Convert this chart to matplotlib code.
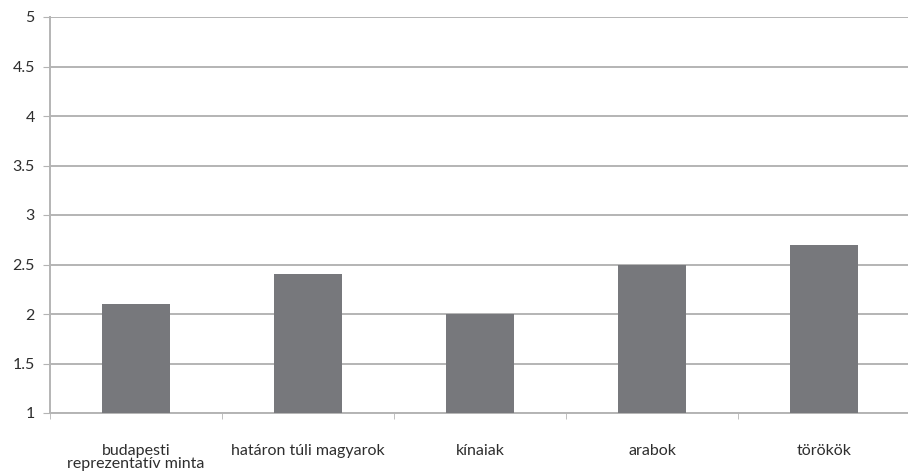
import matplotlib
matplotlib.use('Agg')
import matplotlib.pyplot as plt
import numpy as np

categories = ['budapesti\nreprezentatív minta', 'határon túli magyarok', 'kínaiak', 'arabok', 'törökök']
values = [2.1, 2.4, 2.0, 2.5, 2.7]
yticks = [1, 1.5, 2, 2.5, 3, 3.5, 4, 4.5, 5]
ytick_labels = ['1', '1.5', '2', '2.5', '3', '3.5', '4', '4.5', '5']

plt.rcParams['font.family'] = ['Lato', 'DejaVu Sans']

fig = plt.figure(figsize=(9.08, 4.71), dpi=100)
ax = fig.add_axes([50 / 908, 1 - 413 / 471, 860 / 908, 396 / 471])

x = np.arange(len(categories))
ax.bar(x, values, width=0.4, bottom=0, color='#77787c', zorder=3)

ax.set_xlim(-0.5, len(categories) - 0.5)
ax.set_ylim(1, 5)
ax.set_yticks(yticks)
ax.set_yticklabels(ytick_labels)
ax.yaxis.grid(True, color='#b4b4b4', linewidth=1.4, zorder=0)

ax.set_xticks(x)
ax.set_xticklabels(categories, fontsize=11.5, color='#2e2e2e', linespacing=0.95)
ax.tick_params(axis='x', length=0, pad=22)
ax.set_xticks(np.arange(-0.5, len(categories)), minor=True)
ax.tick_params(axis='x', which='minor', length=4, color='#b4b4b4', direction='out')
ax.tick_params(axis='y', length=5, color='#b4b4b4', pad=6, labelsize=11.5, labelcolor='#2e2e2e')

for s in ['top', 'right']:
    ax.spines[s].set_visible(False)
for s in ['left', 'bottom']:
    ax.spines[s].set_color('#b4b4b4')
    ax.spines[s].set_linewidth(1.4)

fig.savefig('out.png', dpi=100)
